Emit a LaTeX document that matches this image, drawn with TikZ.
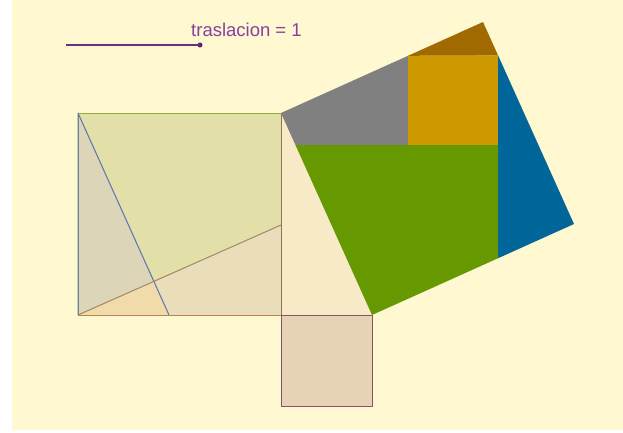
\documentclass[tikz,border=0pt]{standalone}
\usepackage{fontspec}
\setmainfont{Liberation Sans}
\usetikzlibrary{positioning}
\definecolor{cream}{HTML}{FFF8D0}
\definecolor{sliderpurple}{HTML}{6E2E80}
\definecolor{labelpurple}{HTML}{8A3FA0}
\definecolor{olivefill}{HTML}{E2DFA8}
\definecolor{greyfill}{HTML}{DDD5B7}
\definecolor{tanfill}{HTML}{EADDB9}
\definecolor{peachfill}{HTML}{F1DBAA}
\definecolor{palefill}{HTML}{F8EAC6}
\definecolor{rosefill}{HTML}{E6D2B4}
\definecolor{sqgreen}{HTML}{8FAE40}
\definecolor{legblue}{HTML}{5A74B0}
\definecolor{legbrown}{HTML}{A08868}
\definecolor{rimpurple}{HTML}{8A5068}
\definecolor{piecegray}{HTML}{808080}
\definecolor{pieceorange}{HTML}{CC9900}
\definecolor{piecebrown}{HTML}{A06A00}
\definecolor{pieceblue}{HTML}{006699}
\definecolor{piecegreen}{HTML}{669900}

\begin{document}
\begin{tikzpicture}[x=1pt, y=-1pt, line join=round,
  rim/.style={line width=1pt}]
  \useasboundingbox (0,0) rectangle (623,432);
  \fill[white] (0,0) rectangle (623,432);
  \fill[cream] (12,0) rectangle (623,430);

  % triangle and squares
  \coordinate (A) at (281,113);
  \coordinate (E) at (281,315);
  \coordinate (F) at (372,315);
  \coordinate (B) at (483,22);
  \coordinate (C) at (574,224);
  \coordinate (TL) at (78,113);
  \coordinate (BL) at (78,315);
  \coordinate (K) at (169,315);
  \coordinate (M) at (281,225);
  \coordinate (X) at (intersection of TL--K and BL--M);

  % slider
  \coordinate (s0) at (66,45);
  \node[circle, fill=sliderpurple!80!black, inner sep=0, minimum size=5pt] (knob) at (200,45) {};
  \draw[sliderpurple, line width=1.3pt] (s0) -- (knob.center);
  \node[anchor=base west, inner sep=0, text=labelpurple,
        font=\fontsize{18.5}{18.5}\selectfont] (lbl) at (191,36.5) {traslacion = 1};

  % left square, cut in pieces
  \fill[olivefill] (TL) rectangle (E);
  \fill[tanfill] (BL) -- (M) -- (E) -- cycle;
  \fill[greyfill] (TL) -- (BL) -- (K) -- cycle;
  \fill[peachfill] (BL) -- (X) -- (K) -- cycle;
  \draw[sqgreen, rim] (BL) -- (TL) -- (A) -- (E);
  \draw[legblue, rim] (BL) -- (TL) -- (K);
  \draw[legbrown, rim] (BL) -- (M);
  \draw[legbrown!80!orange, rim] (BL) -- (E);

  % triangle and small square
  \fill[palefill] (A) -- (E) -- (F) -- cycle;
  \draw[rimpurple!60!sqgreen, rim] (A) -- (E);
  \draw[rimpurple, rim, fill=rosefill] (E) rectangle (372,406);

  % square on the hypotenuse
  \coordinate (P1) at (intersection of A--B and 408,0--408,400);
  \coordinate (P3) at (intersection of A--F and 0,145--600,145);
  \coordinate (P2) at (408,145);
  \coordinate (P4) at (intersection of B--C and 0,55.4--600,55.4);
  \coordinate (Q) at (P4 |- P2);
  \coordinate (R) at (intersection of C--F and P4--Q);
  \fill[piecegray] (A) -- (P1) -- (P2) -- (P3) -- cycle;
  \fill[pieceorange] (P1) -- (P4) -- (Q) -- (P2) -- cycle;
  \fill[piecebrown] (P1) -- (B) -- (P4) -- cycle;
  \fill[pieceblue] (P4) -- (C) -- (R) -- cycle;
  \fill[piecegreen] (P3) -- (Q) -- (R) -- (F) -- cycle;
\end{tikzpicture}
\end{document}
